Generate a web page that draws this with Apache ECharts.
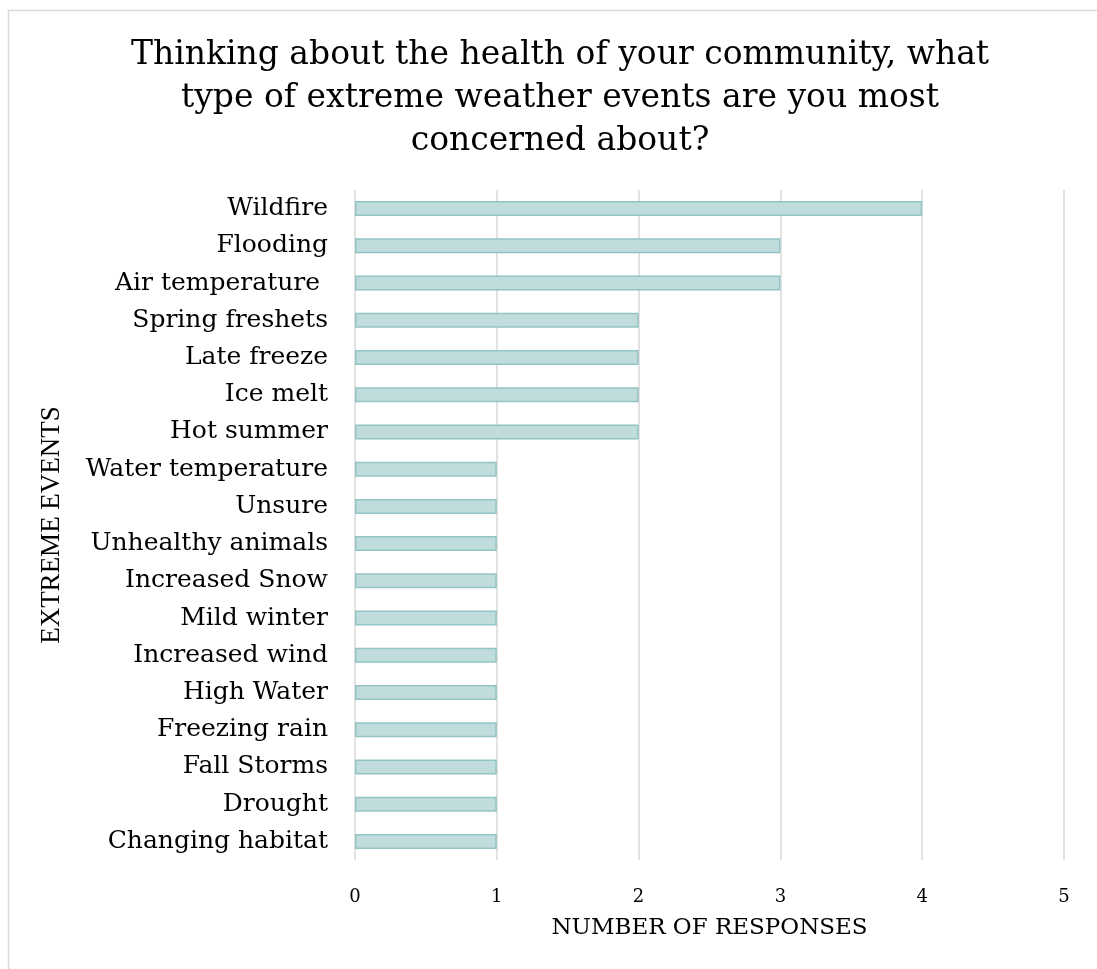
<!DOCTYPE html>
<html>
<head>
<meta charset="utf-8">
<script src="https://cdn.jsdelivr.net/npm/echarts@6/dist/echarts.min.js"></script>
<style>
  html, body { margin: 0; padding: 0; background: #fff; }
  #chart { width: 1097px; height: 969px; }
</style>
</head>
<body>
<div id="chart"></div>
<script>
// Extreme weather events of concern, listed top to bottom
const categories = [
  'Wildfire', 'Flooding', 'Air temperature ', 'Spring freshets', 'Late freeze',
  'Ice melt', 'Hot summer', 'Water temperature', 'Unsure', 'Unhealthy animals',
  'Increased Snow', 'Mild winter', 'Increased wind', 'High Water', 'Freezing rain',
  'Fall Storms', 'Drought', 'Changing habitat'
];
// Number of responses for each event
const responses = [4, 3, 3, 2, 2, 2, 2, 1, 1, 1, 1, 1, 1, 1, 1, 1, 1, 1];

const titleText = 'Thinking about the health of your community, what\ntype of extreme weather events are you most\nconcerned about?';
const xAxisName = 'NUMBER OF RESPONSES';
const yAxisName = 'EXTREME EVENTS';

const serif = '"DejaVu Serif", "Liberation Serif", serif';
const times = '"Liberation Serif", serif';

const chart = echarts.init(document.getElementById('chart'), null, { renderer: 'canvas' });
chart.setOption({
  backgroundColor: '#ffffff',
  animation: false,
  graphic: [{
    type: 'rect',
    shape: { x: 8.5, y: 10.5, width: 1200, height: 1200 },
    style: { fill: 'none', stroke: '#d9d9d9', lineWidth: 1.5 },
    silent: true
  }],
  title: {
    text: titleText,
    left: 555,
    textAlign: 'center',
    top: 29,
    textStyle: {
      fontFamily: serif,
      fontWeight: 'normal',
      fontSize: 33,
      lineHeight: 43,
      color: '#000000'
    }
  },
  grid: {
    left: 355,
    right: 33,
    top: 190,
    bottom: 109,
    outerBoundsMode: 'none'
  },
  xAxis: {
    type: 'value',
    min: 0,
    max: 5,
    interval: 1,
    name: xAxisName,
    nameLocation: 'middle',
    nameGap: 57,
    nameTextStyle: { fontFamily: serif, fontSize: 23, color: '#000000' },
    axisLine: { show: false },
    axisTick: { show: false },
    axisLabel: { fontFamily: serif, fontSize: 18, color: '#000000', margin: 28 },
    splitLine: { lineStyle: { color: '#d9d9d9', width: 1.5 } }
  },
  yAxis: {
    type: 'category',
    data: categories,
    inverse: true,
    name: yAxisName,
    nameLocation: 'middle',
    nameGap: 290,
    nameTextStyle: { fontFamily: times, fontSize: 27, color: '#000000' },
    axisLine: { show: false },
    axisTick: { show: false },
    axisLabel: { fontFamily: serif, fontSize: 25, color: '#000000', margin: 27 },
    splitLine: { show: false }
  },
  series: [{
    type: 'bar',
    data: responses,
    barWidth: 15,
    itemStyle: { color: '#c0dcdc', borderColor: '#93c4c4', borderWidth: 1.5 }
  }]
});
</script>
</body>
</html>
